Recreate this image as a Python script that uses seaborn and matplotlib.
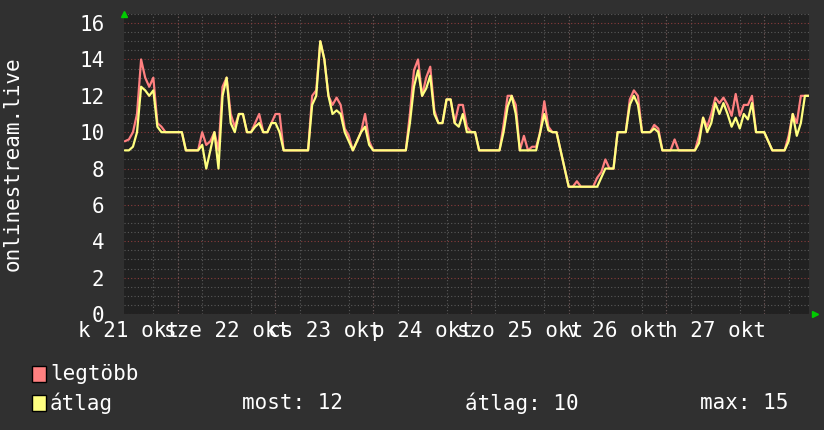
import numpy as np
import pandas as pd
import matplotlib
matplotlib.use("Agg")
import matplotlib.pyplot as plt
import seaborn as sns

# hours relative to 22 okt 00:00
hours = list(range(-13, 156))

atlag = [9, 9, 9.2, 10, 12.5, 12.3, 12, 12.3, 10.3, 10, 10, 10, 10,
         10, 10, 9, 9, 9, 9, 9.3, 8, 9, 10, 8, 12, 13, 10.5, 10, 11, 11, 10, 10,
         10.3, 10.5, 10, 10, 10.5, 10.5, 10, 9, 9, 9, 9, 9, 9, 9, 11.5, 12, 15,
         14, 12, 11, 11.2, 11, 10, 9.5, 9, 9.5, 10, 10.3, 9.3,
         9, 9, 9, 9, 9, 9, 9, 9, 9, 10.5, 12.5, 13.4, 12, 12.4, 13.1, 11, 10.5,
         10.5, 11.8, 11.8, 10.5, 10.3, 11, 10, 10, 10, 9, 9, 9, 9, 9, 9,
         10, 11.4, 12, 11, 9, 9, 9, 9, 9, 10, 11, 10.1, 10, 10, 9, 8, 7, 7, 7,
         7, 7, 7, 7, 7, 7.5, 8, 8, 8, 10, 10, 10, 11.5, 12, 11.5, 10, 10, 10,
         10.2, 10, 9, 9, 9, 9, 9, 9, 9, 9, 9, 9.4, 10.8, 10, 10.5, 11.6, 11,
         11.6, 11, 10.3, 10.8, 10.2, 11, 10.7, 11.6, 10, 10, 10, 9.5, 9, 9, 9,
         9, 9.5, 11, 9.8, 10.5, 12, 12]

legtobb = [9.5, 9.6, 10, 11, 14, 13, 12.5, 13, 10.5, 10.3, 10, 10, 10,
           10, 10, 9, 9, 9, 9, 10, 9.3, 9.5, 10, 9, 12.5, 13, 11, 10.3, 11, 11,
           10, 10, 10.5, 11, 10, 10, 10.5, 11, 11, 9, 9, 9, 9, 9, 9, 9, 12, 12.3,
           15, 14, 12, 11.5, 11.9, 11.5, 10.2, 9.8, 9, 9.5, 10, 11, 9.5,
           9, 9, 9, 9, 9, 9, 9, 9, 9, 11, 13.4, 14, 12, 13, 13.6, 11.2, 10.5,
           10.5, 11.8, 11.8, 10.5, 11.5, 11.5, 10.3, 10, 10, 9, 9, 9, 9, 9, 9,
           10.4, 12, 12, 11.5, 9, 9.8, 9, 9.2, 9.2, 10, 11.7, 10.3, 10, 10, 9, 8,
           7, 7, 7.3, 7, 7, 7, 7, 7.5, 7.8, 8.5, 8, 8, 10, 10, 10, 11.8, 12.3,
           12, 10, 10, 10, 10.4, 10.2, 9, 9, 9, 9.6, 9, 9, 9, 9, 9, 9.8, 10.8,
           10.3, 11, 11.9, 11.6, 11.9, 11.5, 10.9, 12.1, 10.9, 11.5, 11.5, 12,
           10, 10, 10, 9.5, 9, 9, 9, 9, 9.8, 11, 10.5, 12, 12, 12]

tick_pos = [-12, 12, 36, 60, 84, 108, 132]
tick_labels = ["k 21 okt", "sze 22 okt", "cs 23 okt", "p 24 okt",
               "szo 25 okt", "v 26 okt", "h 27 okt"]
day_lines = [0, 24, 48, 72, 96, 120, 144]

df = pd.DataFrame({"ora": hours, "átlag": atlag, "legtöbb": legtobb})

sns.set_theme(style="dark")
plt.rcParams["font.family"] = ["DejaVu Sans Mono", "DejaVu Sans"]

BG = "#303030"
CANVAS = "#212121"
RED = "#ff8080"
YEL = "#ffff80"
TXT = "#ffffff"

fig = plt.figure(figsize=(8.24, 4.30), dpi=100, facecolor=BG)
ax = fig.add_axes([124 / 824, 116 / 430, (809 - 124) / 824, 300 / 430])
ax.set_facecolor(CANVAS)

ymax = 300 / 18.2
ax.set_xlim(-13.2, 155.0)
ax.set_ylim(0, ymax)

# grid
ax.set_yticks(np.arange(0, 17, 2))
ax.set_yticks(np.arange(0, 16.6, 0.5), minor=True)
ax.set_xticks(tick_pos)
ax.set_xticklabels(tick_labels)
ax.set_xticks(np.arange(-12, 156, 6), minor=True)
ax.grid(False)
ax.grid(which="minor", axis="both", color="#5a5a5a", linestyle=(0, (1, 2)),
        linewidth=0.8, zorder=0)
ax.grid(which="major", axis="y", color="#8a3c3c", linestyle=(0, (1, 2)),
        linewidth=0.8, zorder=0)
ax.vlines(day_lines, 0, ymax, colors="#8a3c3c", linestyles=(0, (1, 2)),
          linewidth=0.8, zorder=0.5)
ax.set_axisbelow(True)

sns.lineplot(data=df, x="ora", y="legtöbb", color=RED, linewidth=1.6, ax=ax,
             zorder=3)
sns.lineplot(data=df, x="ora", y="átlag", color=YEL, linewidth=1.6, ax=ax,
             zorder=4)

ax.set_xlabel("")
ax.set_ylabel("")
ax.tick_params(axis="x", which="major", length=0, pad=5, labelsize=15,
               labelcolor=TXT)
ax.tick_params(axis="y", which="major", length=0, pad=14, labelsize=15,
               labelcolor=TXT)
ax.tick_params(axis="both", which="minor", length=2, color="#5a5a5a",
               direction="out")
for s in ax.spines.values():
    s.set_visible(False)

# axis arrows
ax.plot([0], [1.0], marker="^", color="#00cc00", markersize=4,
        transform=ax.transAxes, clip_on=False)
ax.plot([1.009], [0.0], marker=">", color="#00cc00", markersize=4,
        transform=ax.transAxes, clip_on=False)

fig.text(13 / 824, 1 - 164 / 430, "onlinestream.live", rotation=90,
         ha="center", va="center", color=TXT, fontsize=15)

# legend
def box(x, y, c):
    fig.patches.append(plt.Rectangle((x / 824, 1 - (y + 16) / 430), 14 / 824,
                                     16 / 430, transform=fig.transFigure,
                                     facecolor=c, edgecolor="#000000",
                                     linewidth=1))

box(32, 366, RED)
box(32, 395, YEL)
fig.text(50 / 824, 1 - 374 / 430, "legtöbb", ha="left", va="center",
         color=TXT, fontsize=15)
fig.text(50 / 824, 1 - 403 / 430, "átlag", ha="left", va="center",
         color=TXT, fontsize=15)
fig.text(242 / 824, 1 - 403 / 430, "most: 12", ha="left", va="center",
         color=TXT, fontsize=15)
fig.text(465 / 824, 1 - 403 / 430, "átlag: 10", ha="left", va="center",
         color=TXT, fontsize=15)
fig.text(700 / 824, 1 - 403 / 430, "max: 15", ha="left", va="center",
         color=TXT, fontsize=15)

fig.savefig("out.png", dpi=100, facecolor=BG)
